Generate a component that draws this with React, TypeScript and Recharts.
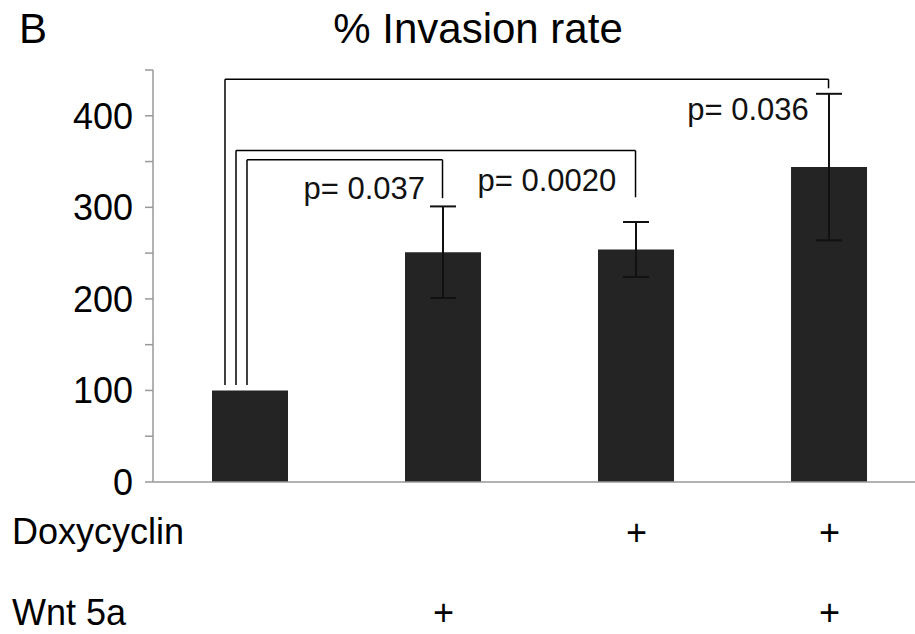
import {
  BarChart,
  Bar,
  XAxis,
  YAxis,
  ErrorBar,
  ReferenceLine,
  ReferenceDot,
} from "recharts";

const categories = ["Control", "Wnt 5a", "Doxycyclin", "Doxycyclin + Wnt 5a"];
const invasion = [100, 251, 254, 344];
const sem = [0, 50, 30, 80];
const doxycyclin = [false, false, true, true];
const wnt5a = [false, true, false, true];
const yTicks = [0, 50, 100, 150, 200, 250, 300, 350, 400, 450];
const yLabelled = [0, 100, 200, 300, 400];

// significance brackets: left end sits over the control bar, right end at the compared bar
const bracketFrom = [0.373, 0.43, 0.487];
const bracketTo = [3, 2, 1];
const bracketTop = [440, 362, 352];
const bracketDrop = [430, 311, 310];
const bracketBase = 106;
const pLabels = ["p= 0.036", "p= 0.0020", "p= 0.037"];
const pLabelAt = [
  { x: 3.083, y: 407 },
  { x: 2.041, y: 330 },
  { x: 1.095, y: 321 },
];

const data = categories.map((name, i) => ({
  name,
  pos: i + 0.5,
  value: invasion[i],
  err: sem[i],
}));

const font = "'Liberation Sans', Arial, sans-serif";

function PlusTick(props: any) {
  const { x, y, payload } = props;
  const i = Math.floor(payload.value);
  return (
    <g>
      {doxycyclin[i] && (
        <text x={x + 1} y={y + 63} textAnchor="middle" fontSize={36} fill="#000">
          +
        </text>
      )}
      {wnt5a[i] && (
        <text x={x + 1} y={y + 143} textAnchor="middle" fontSize={36} fill="#000">
          +
        </text>
      )}
    </g>
  );
}

export default function App() {
  return (
    <div
      style={{
        position: "absolute",
        left: 0,
        top: 0,
        width: 915,
        height: 634,
        overflow: "hidden",
        background: "#fff",
        fontFamily: font,
      }}
    >
      <div style={{ position: "absolute", left: 19, top: 8, fontSize: 42, lineHeight: 1 }}>B</div>
      <div
        style={{
          position: "absolute",
          left: 0,
          width: 956,
          top: 8,
          fontSize: 42,
          lineHeight: 1,
          textAlign: "center",
        }}
      >
        % Invasion rate
      </div>
      <div style={{ position: "absolute", left: 12, top: 514, fontSize: 36, lineHeight: 1 }}>
        Doxycyclin
      </div>
      <div style={{ position: "absolute", left: 12, top: 595, fontSize: 36, lineHeight: 1 }}>
        Wnt 5a
      </div>
      <div style={{ position: "absolute", left: 0, top: 0 }}>
        <BarChart
          width={915}
          height={634}
          data={data}
          margin={{ top: 70, right: 0, bottom: 0, left: 0 }}
          style={{ fontFamily: font }}
        >
          <XAxis
            dataKey="pos"
            type="number"
            domain={[0, 3.948]}
            ticks={[0.5, 1.5, 2.5, 3.5]}
            height={152}
            tickLine={false}
            tickSize={0}
            tickMargin={0}
            stroke="#999"
            strokeWidth={1.5}
            tick={<PlusTick />}
            allowDataOverflow
          />
          <YAxis
            width={153}
            domain={[0, 450]}
            ticks={yTicks}
            interval={0}
            tickSize={8}
            tickMargin={12}
            stroke="#999"
            strokeWidth={1.5}
            tick={{ fontSize: 36, fill: "#000" }}
            tickFormatter={(v: number) => (yLabelled.includes(v) ? String(v) : "")}
          />
          <Bar dataKey="value" fill="#242424" barSize={76} isAnimationActive={false}>
            <ErrorBar dataKey="err" width={13} strokeWidth={2} stroke="#111" direction="y" />
          </Bar>
          {bracketFrom.map((from, i) => {
            const to = bracketTo[i] + 0.5;
            return [
              <ReferenceLine
                key={`l${i}`}
                segment={[
                  { x: from, y: bracketBase },
                  { x: from, y: bracketTop[i] },
                ]}
                stroke="#000"
                strokeWidth={1.5}
                ifOverflow="visible"
              />,
              <ReferenceLine
                key={`t${i}`}
                segment={[
                  { x: from, y: bracketTop[i] },
                  { x: to, y: bracketTop[i] },
                ]}
                stroke="#000"
                strokeWidth={1.5}
                ifOverflow="visible"
              />,
              <ReferenceLine
                key={`r${i}`}
                segment={[
                  { x: to, y: bracketTop[i] },
                  { x: to, y: bracketDrop[i] },
                ]}
                stroke="#000"
                strokeWidth={1.5}
                ifOverflow="visible"
              />,
            ];
          })}
          {pLabels.map((p, i) => (
            <ReferenceDot
              key={p}
              x={pLabelAt[i].x}
              y={pLabelAt[i].y}
              r={0}
              stroke="none"
              fill="none"
              ifOverflow="visible"
              label={{ value: p, position: "center", fontSize: 31, fill: "#111" }}
            />
          ))}
        </BarChart>
      </div>
    </div>
  );
}
